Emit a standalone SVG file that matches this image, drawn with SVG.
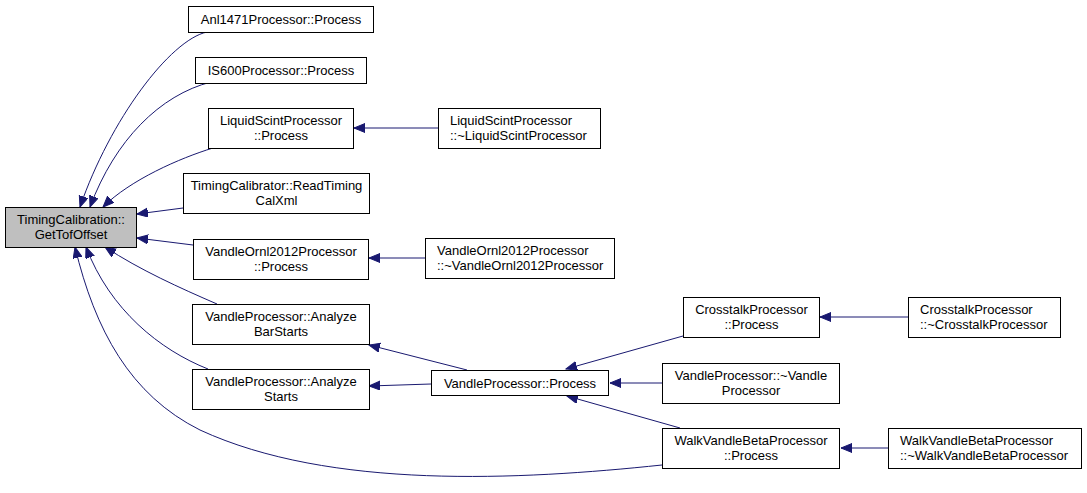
<svg xmlns="http://www.w3.org/2000/svg" width="1087" height="493" viewBox="0 0 1087 493">
<style>
.n rect{fill:#fff;stroke:#000;stroke-width:1}
.n text{font-family:"Liberation Sans",Arial,sans-serif;font-size:13px;fill:#000}
.c{text-anchor:middle}
.l{text-anchor:start}
.e path{fill:none;stroke:#191970;stroke-width:1;marker-end:url(#ah)}
</style>
<defs>
<marker id="ah" markerUnits="userSpaceOnUse" markerWidth="13" markerHeight="10" refX="11" refY="4.5" orient="auto">
<path d="M0,0 L11,4.5 L0,9 z" fill="#191970" stroke="#191970" stroke-width="1"/>
</marker>
</defs>
<rect width="1087" height="493" fill="#fff"/>
<g id="edges" class="e">
<path d="M207,32 C170,40 110,120 80,207"/>
<path d="M211,82 C160,95 115,140 90,207"/>
<path d="M213,148 C180,158 130,180 103,207"/>
<path d="M183,208 L137,214"/>
<path d="M193,245 L137,238"/>
<path d="M217,304 C180,288 140,270 105,247"/>
<path d="M208,369 C160,350 110,310 86,247"/>
<path d="M662,465 C520,480 330,490 200,430 C130,395 95,330 75,247"/>
<path d="M438,128 L354,128"/>
<path d="M425,258 L369,258"/>
<path d="M467,370 L369,345"/>
<path d="M431,384 L369,386"/>
<path d="M683,336 L566,369"/>
<path d="M662,383 L610,383"/>
<path d="M680,428 L567,396"/>
<path d="M908,317 L820,317"/>
<path d="M888,448 L841,448"/>
</g>
<g id="n_get" class="n"><rect x="5.5" y="207.5" width="131" height="40" style="fill:#bfbfbf"/><text class="c" x="71" y="224">TimingCalibration::</text><text class="c" x="71" y="239">GetTofOffset</text></g>
<g id="n_anl" class="n"><rect x="188.5" y="6.5" width="185" height="26"/><text class="c" x="281" y="24">Anl1471Processor::Process</text></g>
<g id="n_is600" class="n"><rect x="195.5" y="57.5" width="171" height="26"/><text class="c" x="281" y="75">IS600Processor::Process</text></g>
<g id="n_lsp" class="n"><rect x="208.5" y="108.5" width="145" height="40"/><text class="c" x="281" y="125">LiquidScintProcessor</text><text class="c" x="281" y="140">::Process</text></g>
<g id="n_rtc" class="n"><rect x="183.5" y="173.5" width="186" height="40"/><text class="c" x="276.5" y="190">TimingCalibrator::ReadTiming</text><text class="c" x="276.5" y="205">CalXml</text></g>
<g id="n_vop" class="n"><rect x="193.5" y="239.5" width="175" height="40"/><text class="c" x="281" y="256">VandleOrnl2012Processor</text><text class="c" x="281" y="271">::Process</text></g>
<g id="n_abs" class="n"><rect x="192.5" y="304.5" width="177" height="40"/><text class="c" x="281" y="321">VandleProcessor::Analyze</text><text class="c" x="281" y="336">BarStarts</text></g>
<g id="n_as" class="n"><rect x="192.5" y="369.5" width="177" height="40"/><text class="c" x="281" y="386">VandleProcessor::Analyze</text><text class="c" x="281" y="401">Starts</text></g>
<g id="n_lsd" class="n"><rect x="438.5" y="108.5" width="162" height="40"/><text class="l" x="450" y="125">LiquidScintProcessor</text><text class="l" x="450" y="140">::~LiquidScintProcessor</text></g>
<g id="n_vod" class="n"><rect x="425.5" y="238.5" width="189" height="40"/><text class="l" x="437" y="255">VandleOrnl2012Processor</text><text class="l" x="437" y="270">::~VandleOrnl2012Processor</text></g>
<g id="n_vp" class="n"><rect x="431.5" y="370.5" width="177" height="25"/><text class="c" x="520" y="387.5">VandleProcessor::Process</text></g>
<g id="n_cp" class="n"><rect x="683.5" y="297.5" width="136" height="40"/><text class="c" x="751.5" y="314">CrosstalkProcessor</text><text class="c" x="751.5" y="329">::Process</text></g>
<g id="n_cd" class="n"><rect x="908.5" y="297.5" width="152" height="40"/><text class="l" x="920" y="314">CrosstalkProcessor</text><text class="l" x="920" y="329">::~CrosstalkProcessor</text></g>
<g id="n_vpd" class="n"><rect x="662.5" y="363.5" width="177" height="40"/><text class="c" x="751" y="380">VandleProcessor::~Vandle</text><text class="c" x="751" y="395">Processor</text></g>
<g id="n_wvp" class="n"><rect x="662.5" y="428.5" width="177" height="40"/><text class="c" x="751" y="445">WalkVandleBetaProcessor</text><text class="c" x="751" y="460">::Process</text></g>
<g id="n_wvd" class="n"><rect x="888.5" y="428.5" width="193" height="40"/><text class="l" x="900" y="445">WalkVandleBetaProcessor</text><text class="l" x="900" y="460">::~WalkVandleBetaProcessor</text></g>
</svg>
